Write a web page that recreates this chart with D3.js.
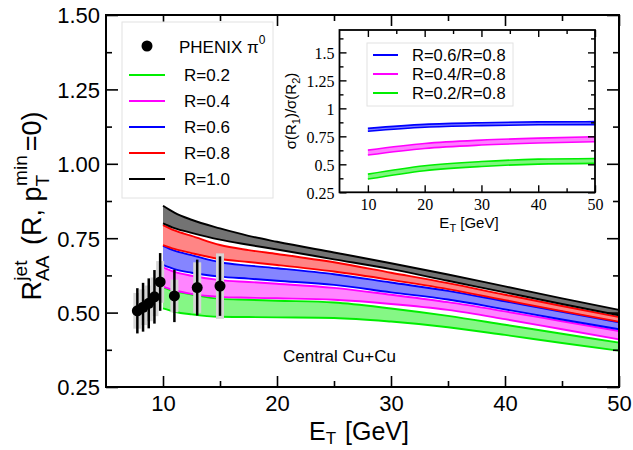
<!DOCTYPE html>
<html>
<head>
<meta charset="utf-8">
<script src="https://cdn.jsdelivr.net/npm/d3@7/dist/d3.min.js"></script>
<style>
  html, body { margin: 0; padding: 0; background: #fff; }
  svg { display: block; font-family: "Liberation Sans", Arial, Helvetica, sans-serif; }
</style>
</head>
<body>
<svg id="chart" width="633" height="450"></svg>
<script>
// Jet transverse energy grid (GeV) for the theory bands
const jetE = [10, 11, 12.5, 15, 17.5, 20, 25, 30, 35, 40, 45, 50];

// R_AA^jet bands (lower / upper edge) for each cone radius
const r10Lo = [0.800, 0.784, 0.768, 0.745, 0.728, 0.712, 0.679, 0.646, 0.607, 0.568, 0.529, 0.491];
const r10Hi = [0.859, 0.836, 0.812, 0.783, 0.758, 0.738, 0.702, 0.666, 0.628, 0.588, 0.548, 0.509];
const r08Lo = [0.727, 0.714, 0.700, 0.680, 0.670, 0.660, 0.638, 0.610, 0.579, 0.542, 0.505, 0.469];
const r08Hi = [0.794, 0.776, 0.758, 0.727, 0.710, 0.697, 0.669, 0.634, 0.599, 0.560, 0.522, 0.485];
const r06Lo = [0.660, 0.646, 0.634, 0.621, 0.614, 0.607, 0.593, 0.568, 0.544, 0.511, 0.477, 0.444];
const r06Hi = [0.724, 0.708, 0.693, 0.669, 0.658, 0.649, 0.629, 0.601, 0.573, 0.538, 0.503, 0.467];
const r04Lo = [0.587, 0.575, 0.563, 0.553, 0.550, 0.548, 0.543, 0.529, 0.509, 0.478, 0.444, 0.410];
const r04Hi = [0.652, 0.637, 0.624, 0.609, 0.603, 0.597, 0.583, 0.560, 0.535, 0.504, 0.471, 0.438];
const r02Lo = [0.514, 0.503, 0.494, 0.486, 0.485, 0.484, 0.482, 0.470, 0.451, 0.425, 0.398, 0.372];
const r02Hi = [0.585, 0.572, 0.561, 0.546, 0.543, 0.540, 0.534, 0.514, 0.489, 0.459, 0.429, 0.399];

// PHENIX pi0 measurement
const phenixE    = [7.75, 8.25, 8.75, 9.25, 9.75, 11, 13, 15];
const phenixRaa  = [0.506, 0.518, 0.531, 0.553, 0.603, 0.556, 0.584, 0.589];
const phenixStat = [0.076, 0.082, 0.084, 0.090, 0.097, 0.088, 0.094, 0.100];
const phenixSys  = [0.060, 0.060, 0.060, 0.065, 0.070, 0.055, 0.085, 0.110];

// Cross-section ratios sigma(R1)/sigma(R2) for the inset
const ratioE     = [10, 20, 30, 40, 50];
const ratio06    = [0.808, 0.844, 0.859, 0.866, 0.868];
const ratio04    = [0.605, 0.664, 0.694, 0.712, 0.724];
const ratio02    = [0.390, 0.465, 0.503, 0.524, 0.530];

// Axis ticks
const xMajor = [10, 20, 30, 40, 50];
const xMinor = [15, 25, 35, 45];
const yMajor = [0.25, 0.50, 0.75, 1.00, 1.25, 1.50];
const yMinor = [0.375, 0.625, 0.875, 1.125, 1.375];
const insetYMajor = [0.25, 0.5, 0.75, 1, 1.25, 1.5];
const insetYMinor = [0.375, 0.625, 0.875, 1.125, 1.375, 1.625];
const insetXMajor = [10, 20, 30, 40, 50];
const insetXMinor = [15, 25, 35, 45];

const bands = [
  { label: "R=0.2", color: "#00ee00", lo: r02Lo, hi: r02Hi },
  { label: "R=0.4", color: "#ff00ff", lo: r04Lo, hi: r04Hi },
  { label: "R=0.6", color: "#0000ff", lo: r06Lo, hi: r06Hi },
  { label: "R=0.8", color: "#ff0000", lo: r08Lo, hi: r08Hi },
  { label: "R=1.0", color: "#000000", lo: r10Lo, hi: r10Hi }
];
const ratios = [
  { label: "R=0.6/R=0.8", color: "#0000ff", vals: ratio06, half: 0.013 },
  { label: "R=0.4/R=0.8", color: "#ff00ff", vals: ratio04, half: 0.022 },
  { label: "R=0.2/R=0.8", color: "#00ee00", vals: ratio02, half: 0.022 }
];

const svg = d3.select("#chart");

// ---------- main panel ----------
const x = d3.scaleLinear().domain([5, 50]).range([106, 619]);
const y = d3.scaleLinear().domain([0.25, 1.5]).range([387, 15]);

const plot = svg.append("g");

bands.forEach(b => {
  const pts = jetE.map((e, k) => ({ e, lo: b.lo[k], hi: b.hi[k] }));
  plot.append("path").datum(pts)
    .attr("d", d3.area().x(d => x(d.e)).y0(d => y(d.lo)).y1(d => y(d.hi)).curve(d3.curveMonotoneX))
    .attr("fill", b.color).attr("fill-opacity", b.color === "#000000" ? 0.55 : 0.48);
  ["lo", "hi"].forEach(key => {
    plot.append("path").datum(pts)
      .attr("d", d3.line().x(d => x(d.e)).y(d => y(d[key])).curve(d3.curveMonotoneX))
      .attr("fill", "none").attr("stroke", b.color).attr("stroke-width", 1.9);
  });
});

// PHENIX points: systematic boxes, statistical bars, markers
const phenix = phenixE.map((e, k) => ({ e, v: phenixRaa[k], st: phenixStat[k], sy: phenixSys[k] }));
plot.selectAll(".sys").data(phenix).enter().append("rect")
  .attr("x", d => x(d.e) - 4).attr("width", 8)
  .attr("y", d => y(d.v + d.sy)).attr("height", d => y(d.v - d.sy) - y(d.v + d.sy))
  .attr("fill", "#d4d4d4");
plot.selectAll(".stat").data(phenix).enter().append("line")
  .attr("x1", d => x(d.e)).attr("x2", d => x(d.e))
  .attr("y1", d => y(d.v + d.st)).attr("y2", d => y(d.v - d.st))
  .attr("stroke", "#000").attr("stroke-width", 2.5);
plot.selectAll(".pt").data(phenix).enter().append("circle")
  .attr("cx", d => x(d.e)).attr("cy", d => y(d.v)).attr("r", 5.5).attr("fill", "#000");

// axes with inward ticks on all sides
function tickAxis(axisFn, scale, values, size, fmt, transform) {
  const g = svg.append("g").attr("transform", transform)
    .call(axisFn(scale).tickValues(values).tickSize(size).tickFormat(fmt));
  g.select(".domain").remove();
  g.selectAll("line").attr("stroke", "#000").attr("stroke-width", 1.6);
  return g;
}
const fmt2 = d3.format(".2f");
const gxb = tickAxis(d3.axisBottom, x, xMajor, -11, d3.format("d"), "translate(0,387)");
gxb.selectAll("text").attr("font-size", 22).attr("fill", "#000").attr("y", 8).attr("dy", "0.72em");
tickAxis(d3.axisBottom, x, xMinor, -6, "", "translate(0,387)");
tickAxis(d3.axisTop, x, xMajor, -11, "", "translate(0,15)");
tickAxis(d3.axisTop, x, xMinor, -6, "", "translate(0,15)");
const gyl = tickAxis(d3.axisLeft, y, yMajor, -12, fmt2, "translate(106,0)");
gyl.selectAll("text").attr("font-size", 22).attr("fill", "#000").attr("x", -6).attr("dy", "0.36em");
tickAxis(d3.axisLeft, y, yMinor, -6, "", "translate(106,0)");
tickAxis(d3.axisRight, y, yMajor, -12, "", "translate(619,0)");
tickAxis(d3.axisRight, y, yMinor, -6, "", "translate(619,0)");

svg.append("rect").attr("x", 106).attr("y", 15).attr("width", 513).attr("height", 372)
  .attr("fill", "none").attr("stroke", "#000").attr("stroke-width", 2);

// axis titles
const xt = svg.append("text").attr("x", 359).attr("y", 440).attr("text-anchor", "middle")
  .attr("font-size", 25).attr("fill", "#000");
xt.append("tspan").text("E");
xt.append("tspan").attr("font-size", 17).attr("dy", 4).text("T");
xt.append("tspan").attr("dy", -4).attr("dx", 2).text(" [GeV]");

const yt = svg.append("text").attr("transform", "translate(41,206) rotate(-90)")
  .attr("text-anchor", "middle").attr("font-size", 27).attr("fill", "#000");
yt.append("tspan").text("R");
yt.append("tspan").attr("font-size", 19).attr("dy", 8).text("AA");
yt.append("tspan").attr("font-size", 19).attr("dy", -22).attr("dx", -25).text("jet");
yt.append("tspan").attr("dy", 14).attr("dx", 8).text(" (R, p");
yt.append("tspan").attr("font-size", 19).attr("dy", 8).text("T");
yt.append("tspan").attr("font-size", 19).attr("dy", -22).attr("dx", -11).text("min");
yt.append("tspan").attr("dy", 14).attr("dx", 4).text("=0)");

svg.append("text").attr("x", 283).attr("y", 362).attr("font-size", 17).attr("fill", "#000")
  .text("Central Cu+Cu");

// ---------- main legend ----------
const leg = svg.append("g");
leg.append("rect").attr("x", 122).attr("y", 22).attr("width", 151).attr("height", 176)
  .attr("fill", "#fff").attr("stroke", "#e2e2e2").attr("stroke-width", 1);
leg.append("circle").attr("cx", 147).attr("cy", 46).attr("r", 5.5).attr("fill", "#000");
const pl = leg.append("text").attr("x", 179).attr("y", 53).attr("font-size", 17).attr("fill", "#000");
pl.append("tspan").text("PHENIX \u03c0");
pl.append("tspan").attr("font-size", 12).attr("dy", -9).text("0");
bands.forEach((b, k) => {
  const yy = 75 + k * 26;
  leg.append("line").attr("x1", 129).attr("x2", 165).attr("y1", yy).attr("y2", yy)
    .attr("stroke", b.color).attr("stroke-width", 2);
  leg.append("text").attr("x", 184).attr("y", yy + 6).attr("font-size", 17).attr("fill", "#000")
    .text(b.label);
});

// ---------- inset: cross-section ratios ----------
const ix = d3.scaleLinear().domain([5, 50]).range([339.5, 595]);
const iy = d3.scaleLinear().domain([0.25, 1.7]).range([192.3, 30]);
const inset = svg.append("g");
inset.append("rect").attr("x", 339.5).attr("y", 30).attr("width", 255.5).attr("height", 162.3)
  .attr("fill", "#fff");

ratios.forEach(r => {
  const pts = ratioE.map((e, k) => ({ e, v: r.vals[k] }));
  inset.append("path").datum(pts)
    .attr("d", d3.area().x(d => ix(d.e)).y0(d => iy(d.v - r.half)).y1(d => iy(d.v + r.half)).curve(d3.curveMonotoneX))
    .attr("fill", r.color).attr("fill-opacity", 0.5);
  [-1, 1].forEach(s => {
    inset.append("path").datum(pts)
      .attr("d", d3.line().x(d => ix(d.e)).y(d => iy(d.v + s * r.half)).curve(d3.curveMonotoneX))
      .attr("fill", "none").attr("stroke", r.color).attr("stroke-width", 1.6);
  });
});

function insetAxis(axisFn, scale, values, size, transform) {
  const g = svg.append("g").attr("transform", transform)
    .call(axisFn(scale).tickValues(values).tickSize(size).tickFormat(""));
  g.select(".domain").remove();
  g.selectAll("line").attr("stroke", "#000").attr("stroke-width", 1.4);
  return g;
}
const serif = "'Liberation Serif', 'Times New Roman', serif";
const ixb = svg.append("g").attr("transform", "translate(0,192.3)")
  .call(d3.axisBottom(ix).tickValues(insetXMajor).tickSize(-7).tickFormat(d3.format("d")));
ixb.select(".domain").remove();
ixb.selectAll("line").attr("stroke", "#000").attr("stroke-width", 1.4);
ixb.selectAll("text").attr("font-family", serif)
  .attr("font-size", 16).attr("fill", "#000").attr("y", 7).attr("dy", "0.7em");
insetAxis(d3.axisBottom, ix, insetXMinor, -4, "translate(0,192.3)");
insetAxis(d3.axisTop, ix, insetXMajor, -7, "translate(0,30)");
insetAxis(d3.axisTop, ix, insetXMinor, -4, "translate(0,30)");
const iyl = svg.append("g").attr("transform", "translate(339.5,0)")
  .call(d3.axisLeft(iy).tickValues(insetYMajor).tickSize(-7).tickFormat(d => String(d)));
iyl.select(".domain").remove();
iyl.selectAll("line").attr("stroke", "#000").attr("stroke-width", 1.4);
iyl.selectAll("text").attr("font-family", serif)
  .attr("font-size", 16).attr("fill", "#000").attr("x", -5).attr("dy", "0.36em");
insetAxis(d3.axisLeft, iy, insetYMinor, -4, "translate(339.5,0)");
insetAxis(d3.axisRight, iy, insetYMajor, -7, "translate(595,0)");
insetAxis(d3.axisRight, iy, insetYMinor, -4, "translate(595,0)");

svg.append("rect").attr("x", 339.5).attr("y", 30).attr("width", 255.5).attr("height", 162.3)
  .attr("fill", "none").attr("stroke", "#000").attr("stroke-width", 1.8);

// inset legend
const il = svg.append("g");
il.append("rect").attr("x", 367).attr("y", 43).attr("width", 146).attr("height", 63)
  .attr("fill", "#fff").attr("stroke", "#e2e2e2");
ratios.forEach((r, k) => {
  const yy = 55 + k * 19;
  il.append("line").attr("x1", 373).attr("x2", 398).attr("y1", yy).attr("y2", yy)
    .attr("stroke", r.color).attr("stroke-width", 2);
  il.append("text").attr("x", 412).attr("y", yy + 6).attr("font-size", 16.5).attr("fill", "#000")
    .text(r.label);
});

// inset axis titles
const ixt = svg.append("text").attr("x", 469).attr("y", 228).attr("text-anchor", "middle")
  .attr("font-size", 15).attr("fill", "#000");
ixt.append("tspan").text("E");
ixt.append("tspan").attr("font-size", 11).attr("dy", 4).text("T");
ixt.append("tspan").attr("dy", -4).text(" [GeV]");

const iyt = svg.append("text").attr("transform", "translate(296,111) rotate(-90)")
  .attr("text-anchor", "middle").attr("font-size", 15).attr("fill", "#000");
iyt.append("tspan").text("\u03c3(R");
iyt.append("tspan").attr("font-size", 11).attr("dy", 4).text("1");
iyt.append("tspan").attr("dy", -4).text(")/\u03c3(R");
iyt.append("tspan").attr("font-size", 11).attr("dy", 4).text("2");
iyt.append("tspan").attr("dy", -4).text(")");
</script>
</body>
</html>
